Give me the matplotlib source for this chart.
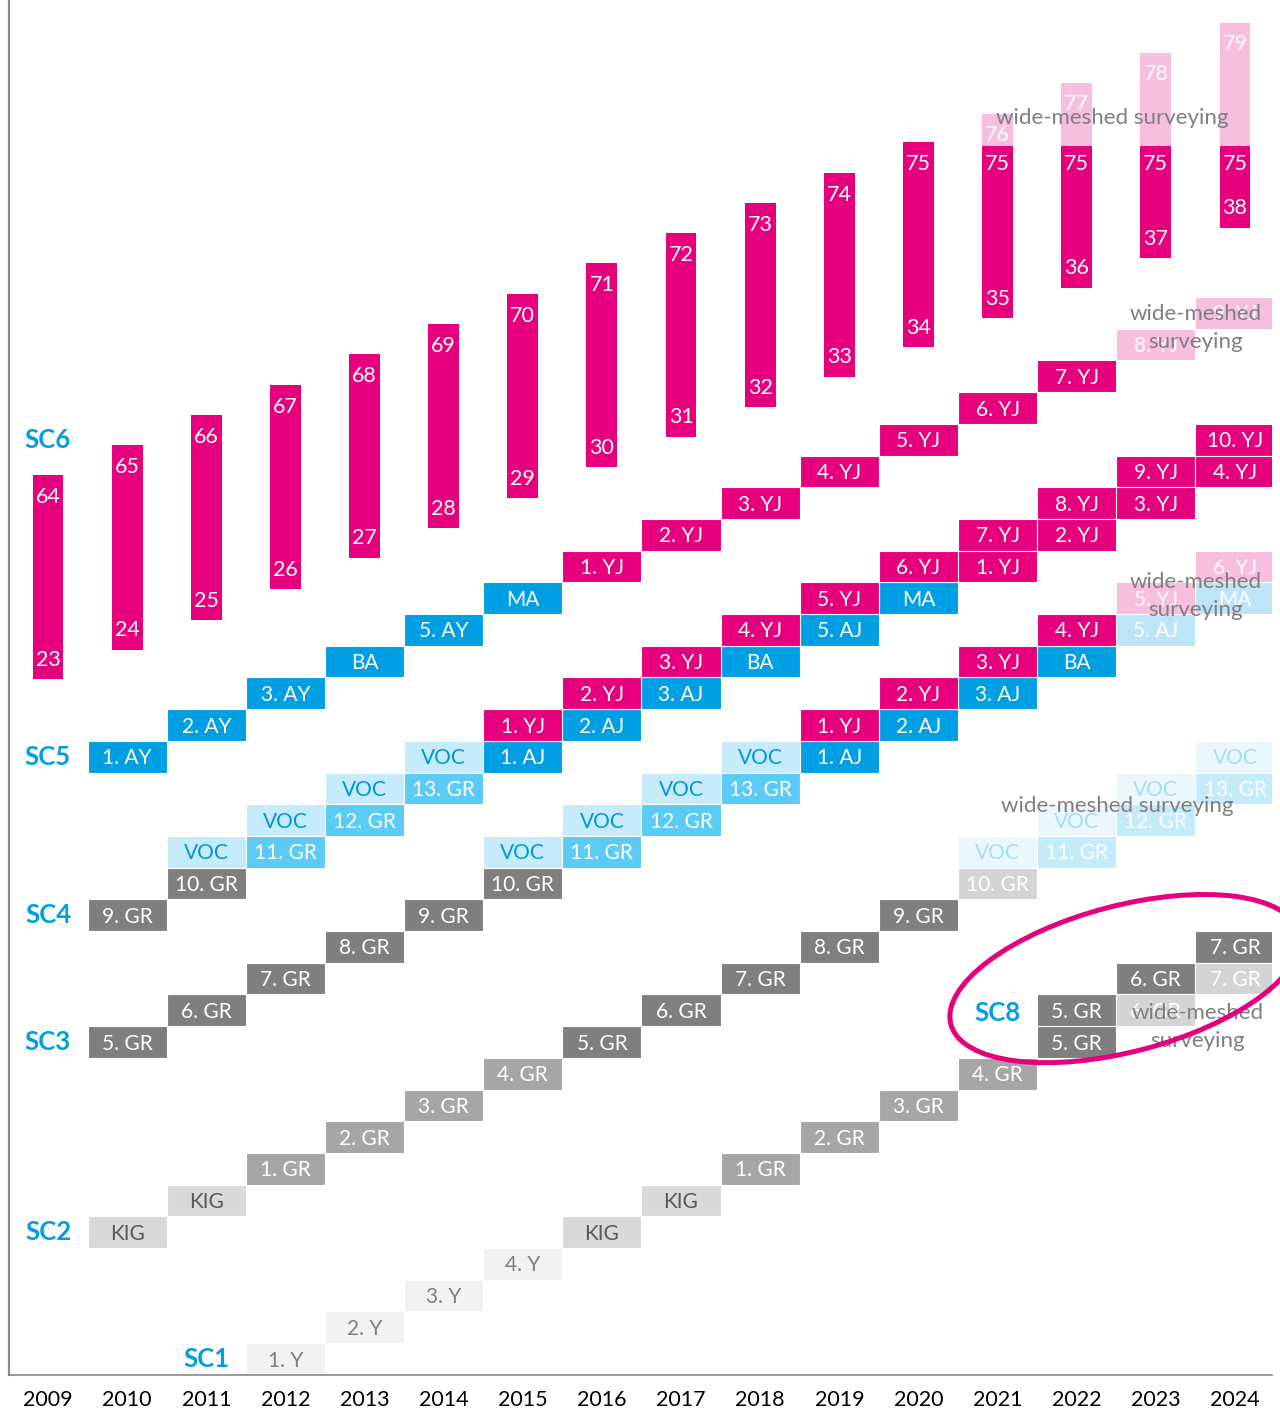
import matplotlib.pyplot as plt
from matplotlib.patches import Ellipse, Rectangle
from matplotlib.transforms import Affine2D

plt.rcParams['font.family'] = ['Lato', 'DejaVu Sans']

years = list(range(2009, 2025))

# staircase cells: (year, row, label)
y_cells = [(2012, 0, "1. Y"), (2013, 1, "2. Y"), (2014, 2, "3. Y"), (2015, 3, "4. Y")]
kig_cells = [(2010, 4, "KIG"), (2011, 5, "KIG"), (2016, 4, "KIG"), (2017, 5, "KIG")]
gr_low_cells = [(2012, 6, "1. GR"), (2013, 7, "2. GR"), (2014, 8, "3. GR"), (2015, 9, "4. GR"),
                (2018, 6, "1. GR"), (2019, 7, "2. GR"), (2020, 8, "3. GR"), (2021, 9, "4. GR")]
gr_high_cells = [(2010, 10, "5. GR"), (2011, 11, "6. GR"), (2012, 12, "7. GR"), (2013, 13, "8. GR"),
                 (2014, 14, "9. GR"), (2010, 14, "9. GR"), (2011, 15, "10. GR"), (2015, 15, "10. GR"),
                 (2016, 10, "5. GR"), (2017, 11, "6. GR"), (2018, 12, "7. GR"), (2019, 13, "8. GR"),
                 (2020, 14, "9. GR"),
                 (2022, 10, "5. GR"), (2022, 11, "5. GR"), (2023, 12, "6. GR"), (2024, 13, "7. GR")]
gr_faded_cells = [(2021, 15, "10. GR"), (2023, 11, "6. GR"), (2024, 12, "7. GR")]
voc_cells = [(2011, 16, "VOC"), (2012, 17, "VOC"), (2013, 18, "VOC"), (2014, 19, "VOC"),
             (2015, 16, "VOC"), (2016, 17, "VOC"), (2017, 18, "VOC"), (2018, 19, "VOC")]
voc_faded_cells = [(2021, 16, "VOC"), (2022, 17, "VOC"), (2023, 18, "VOC"), (2024, 19, "VOC")]
grvoc_cells = [(2012, 16, "11. GR"), (2013, 17, "12. GR"), (2014, 18, "13. GR"),
               (2016, 16, "11. GR"), (2017, 17, "12. GR"), (2018, 18, "13. GR")]
grvoc_faded_cells = [(2022, 16, "11. GR"), (2023, 17, "12. GR"), (2024, 18, "13. GR")]
blue_cells = [(2010, 19, "1. AY"), (2011, 20, "2. AY"), (2012, 21, "3. AY"), (2013, 22, "BA"),
              (2014, 23, "5. AY"), (2015, 24, "MA"),
              (2015, 19, "1. AJ"), (2016, 20, "2. AJ"), (2017, 21, "3. AJ"), (2018, 22, "BA"),
              (2019, 23, "5. AJ"), (2020, 24, "MA"),
              (2019, 19, "1. AJ"), (2020, 20, "2. AJ"), (2021, 21, "3. AJ"), (2022, 22, "BA")]
blue_faded_cells = [(2023, 23, "5. AJ"), (2024, 24, "MA")]
pink_cells = [(2016, 25, "1. YJ"), (2017, 26, "2. YJ"), (2018, 27, "3. YJ"), (2019, 28, "4. YJ"),
              (2020, 29, "5. YJ"), (2021, 30, "6. YJ"), (2022, 31, "7. YJ"),
              (2015, 20, "1. YJ"), (2016, 21, "2. YJ"), (2017, 22, "3. YJ"), (2018, 23, "4. YJ"),
              (2019, 24, "5. YJ"), (2020, 25, "6. YJ"), (2021, 26, "7. YJ"), (2022, 27, "8. YJ"),
              (2023, 28, "9. YJ"), (2024, 29, "10. YJ"),
              (2019, 20, "1. YJ"), (2020, 21, "2. YJ"), (2021, 22, "3. YJ"), (2022, 23, "4. YJ"),
              (2021, 25, "1. YJ"), (2022, 26, "2. YJ"), (2023, 27, "3. YJ"), (2024, 28, "4. YJ")]
pink_faded_cells = [(2023, 32, "8. YJ"), (2024, 33, "9. YJ"), (2023, 24, "5. YJ"), (2024, 25, "6. YJ")]

# age bars (SC6): bottom/top in row units
bar_bottom = [21.45, 22.37, 23.31, 24.29, 25.27, 26.21, 27.16, 28.14,
              29.09, 30.03, 30.98, 31.92, 32.84, 33.79, 34.73, 35.68]
bar_top = [27.89, 28.83, 29.78, 30.73, 31.70, 32.65, 33.60, 34.57,
           35.52, 36.47, 37.41, 38.39, 38.26, 38.26, 38.26, 38.26]
bar_low_labels = ["23", "24", "25", "26", "27", "28", "29", "30",
                  "31", "32", "33", "34", "35", "36", "37", "38"]
bar_high_labels = ["64", "65", "66", "67", "68", "69", "70", "71",
                   "72", "73", "74", "75", "75", "75", "75", "75"]
ext_years = [2021, 2022, 2023, 2024]
ext_top = [39.27, 40.25, 41.20, 42.15]
ext_labels = ["76", "77", "78", "79"]

sc_names = ["SC6", "SC5", "SC4", "SC3", "SC2", "SC1", "SC8"]
sc_x = [2009, 2009, 2009, 2009, 2009, 2011, 2021]
sc_y = [29, 19, 14, 10, 4, 0, 10.9]

note_x = [2022.45, 2023.5, 2023.5, 2022.51, 2023.53]
note_y = [39.15, 32.52, 24.07, 17.44, 10.47]
note_text = ["wide-meshed surveying", "wide-meshed\nsurveying", "wide-meshed\nsurveying",
             "wide-meshed surveying", "wide-meshed\nsurveying"]

MAG = "#E6007E"
BLUE = "#009FE3"

styles = [
    (y_cells, "#F2F2F2", "#7F7F7F"),
    (kig_cells, "#D9D9D9", "#595959"),
    (gr_low_cells, "#A6A6A6", "white"),
    (gr_high_cells, "#7F7F7F", "white"),
    (gr_faded_cells, "#D4D4D4", "white"),
    (voc_cells, "#C6EBFB", "#0095D9"),
    (voc_faded_cells, "#EAF7FD", "#A5DCF4"),
    (grvoc_cells, "#5BCBF5", "white"),
    (grvoc_faded_cells, "#C5EAFA", "white"),
    (blue_cells, BLUE, "white"),
    (blue_faded_cells, "#BEE5F7", "white"),
    (pink_cells, MAG, "white"),
    (pink_faded_cells, "#F7BEDD", "white"),
]

fig = plt.figure(figsize=(12.8, 14.11), dpi=100)
ax = fig.add_axes([9 / 1280, 36 / 1411, 1263 / 1280, 1375 / 1411])
ax.set_xlim(2008.507, 2024.468)
ax.set_ylim(-0.505, 42.87)

for cells, fc, tc in styles:
    for yr, row, lab in cells:
        ax.add_patch(Rectangle((yr - 0.5, row - 0.5), 1.0, 1.0, facecolor=fc,
                               edgecolor="white", linewidth=0.8, zorder=2))
        ax.text(yr, row - 0.05, lab, ha="center", va="center", color=tc, fontsize=15, zorder=3)

# age bars
ax.bar(years, [t - b for t, b in zip(bar_top, bar_bottom)], bottom=bar_bottom,
       width=0.39, color=MAG, zorder=2)
ax.bar(ext_years, [t - 38.26 for t in ext_top], bottom=38.26, width=0.39,
       color="#F7BEDD", zorder=2)
for yr, b, t, lo, hi in zip(years, bar_bottom, bar_top, bar_low_labels, bar_high_labels):
    off = -13 if yr >= 2021 else -16
    ax.annotate(hi, (yr, t), xytext=(0, off), textcoords="offset points", ha="center",
                va="center", color="white", fontsize=15.5, zorder=3)
    ax.annotate(lo, (yr, b), xytext=(0, 14), textcoords="offset points", ha="center",
                va="center", color="white", fontsize=15.5, zorder=3)
for yr, t, lab in zip(ext_years, ext_top, ext_labels):
    ax.annotate(lab, (yr, t), xytext=(0, -15), textcoords="offset points", ha="center",
                va="center", color="white", fontsize=15.5, zorder=3)

for name, x, y in zip(sc_names, sc_x, sc_y):
    ax.text(x, y, name, ha="center", va="center", color=BLUE, fontsize=18.5,
            fontweight="bold", zorder=3)

for x, y, t in zip(note_x, note_y, note_text):
    ax.text(x, y, t, ha="center", va="center", color="#7F7F7F", fontsize=16,
            linespacing=1.55, zorder=4)

# ellipse around SC8
cx, cy = ax.transData.transform((2022.61, 12.0))
ell = Ellipse((0, 0), 360, 146, facecolor="none", edgecolor=MAG, linewidth=3.6,
              transform=Affine2D().rotate_deg(14.7).translate(cx, cy), zorder=5)
ell.set_clip_on(False)
ax.add_artist(ell)

ax.set_xticks(years)
ax.set_xticklabels([str(y) for y in years], fontsize=15.5, color="black")
ax.tick_params(axis="x", length=0, pad=11)
ax.set_yticks([])
for s in ["top", "right"]:
    ax.spines[s].set_visible(False)
ax.spines["left"].set_color("#8C8C8C")
ax.spines["left"].set_linewidth(1.6)
ax.spines["bottom"].set_color("#7F7F7F")
ax.spines["bottom"].set_linewidth(1.1)

fig.savefig("out.png", dpi=100)
